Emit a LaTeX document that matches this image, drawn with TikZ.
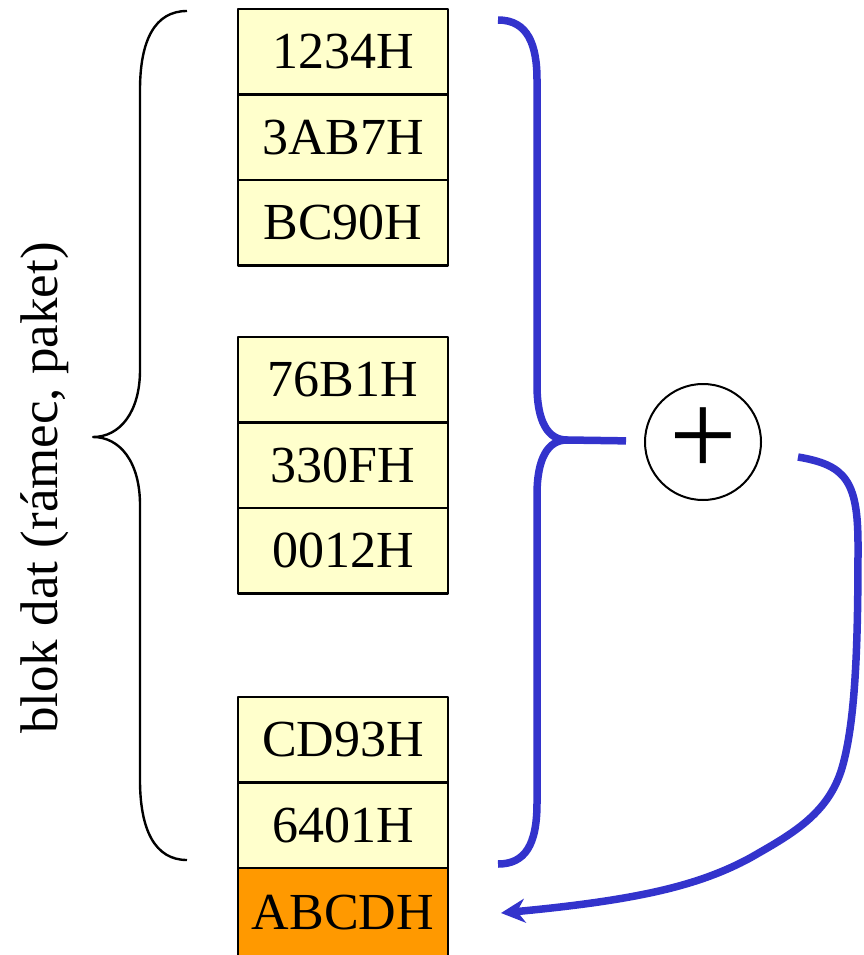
\documentclass[tikz,border=0pt]{standalone}
\usepackage{fontspec}
\setmainfont{Liberation Serif}
\usetikzlibrary{arrows.meta}
\definecolor{cellyellow}{HTML}{FFFFCC}
\definecolor{sumorange}{HTML}{FF9900}
\definecolor{braceblue}{HTML}{3333CC}
\tikzset{
  cell/.style={draw, line width=2.5pt, fill=cellyellow, outer sep=0pt, inner sep=0pt,
    minimum width=210pt, minimum height=85.5pt, font=\fontsize{52}{60}\selectfont},
  sumnode/.style={draw, circle, line width=2pt, minimum size=116pt, inner sep=0pt,
    font=\fontsize{120}{130}\selectfont},
  bluebrace/.style={draw=braceblue, line width=7.5pt},
}
\begin{document}
\begin{tikzpicture}[x=1pt,y=1pt,>=Stealth, line join=round]
            \useasboundingbox (0,0) rectangle (864,-955);
            \def\xc{343}
            % data words
            \foreach \n/\t/\y in {c1/1234H/51.75, c2/3AB7H/137.25, c3/BC90H/222.75,
                                  c4/76B1H/379.75, c5/330FH/465.25, c6/0012H/550.75,
                                  c7/CD93H/739.75, c8/6401H/825.25}
            \node[cell] (\n) at (\xc,-\y) {\t};
            \node[cell, fill=sumorange, minimum height=90pt] (crc) at (\xc,-913) {ABCDH};
            \node[sumnode] (sum) at (703,-442) {+};
            \node[rotate=90, font=\fontsize{53}{60}\selectfont] (blok) at (45,-488) {blok dat (rámec, paket)};
            % left brace
            \draw[line width=2.4pt] (187,-11) .. controls (155,-11) and (140,-40) .. (140,-90) -- (140,-370)
                .. controls (140,-412) and (120,-437) .. (93,-437)
                .. controls (120,-437) and (140,-462) .. (140,-505) -- (140,-780)
                .. controls (140,-830) and (155,-860) .. (187,-860);
            % blue brace
            \coordinate (btip) at (567,-440);
            \coordinate (sumout) at (798,-457);
            \draw[bluebrace] (498,-20) .. controls (528,-20) and (537,-45) .. (537,-80) -- (537,-385)
                .. controls (537,-422) and (548,-440) .. (btip)
                .. controls (548,-440) and (537,-458) .. (537,-495) -- (537,-803)
                .. controls (537,-845) and (525,-864) .. (498,-864);
            \draw[bluebrace, shorten >=18pt] (btip) -- (sum);
            \draw[bluebrace, -{Stealth[length=24pt,width=24pt]}] (sumout)
                .. controls (845,-465) and (858,-480) .. (858,-545)
                .. controls (858,-640) and (856,-720) .. (842,-768)
                .. controls (828,-815) and (790,-835) .. (750,-858)
                .. controls (700,-885) and (640,-900) .. ([xshift=53pt]crc.east);
    \end{tikzpicture}
\end{document}
